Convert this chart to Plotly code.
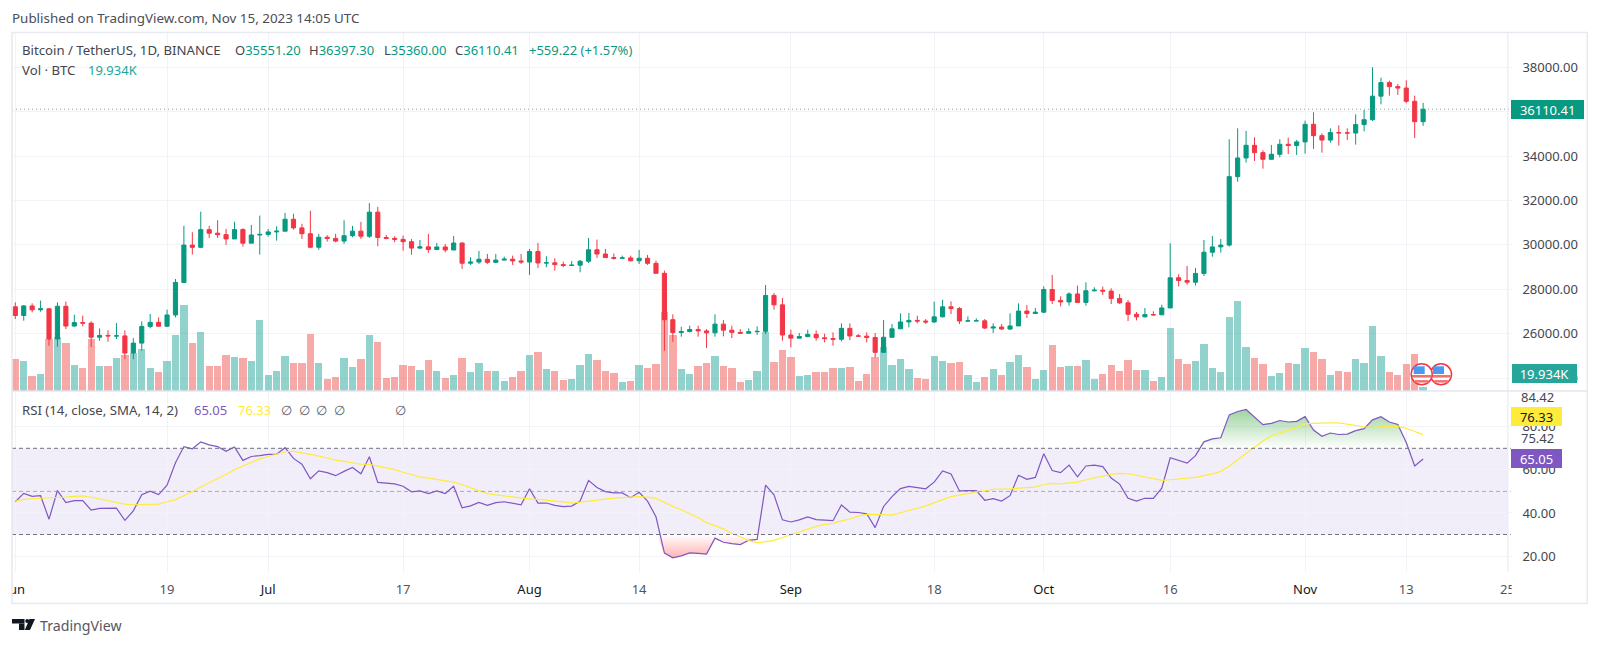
import pandas as pd
import plotly.graph_objects as go

W, H = 1600, 645
FONT = "Noto Sans"

opens = [27210,26820,27252,27075,27123,25760,27235,26345,26500,26477,25842,25922,25900,25902,25128,25576,26329,26511,26337,26845,28308,29990,29890,30688,30528,30462,30268,30690,30078,30446,
 30472,30585,30617,31156,30766,30504,29895,30346,30292,30171,30414,30620,30391,31476,30334,30295,30249,30145,29856,29913,29792,29908,29771,30083,29176,29228,29354,29213,29315,29357,29278,
 29230,29705,29186,29193,29113,29072,29088,29263,29780,29590,29430,29398,29415,29284,29400,29170,28720,26630,26050,26100,26190,26125,26040,26430,26160,26060,26020,26090,26105,27725,27300,
 25940,25800,25870,25970,25815,25780,25750,26240,25900,25890,25830,25160,25840,26220,26530,26600,26570,26530,26760,27210,27130,26570,26580,26580,26255,26300,26210,26350,27020,26910,
 26970,27990,27500,27430,27790,27410,27935,27960,27920,27590,27390,26875,26760,26860,26850,27160,28520,28395,28320,28715,29670,29910,29990,33075,33916,34486,34156,33856,34081,34531,34480,
 34640,35432,34922,34722,35060,35045,35040,35420,35640,36700,37310,37130,37065,36470,35551.20]
closes = [26820,27252,27075,27123,25760,27235,26345,26500,26477,25842,25922,25900,25902,25128,25576,26329,26511,26337,26845,28308,29990,29890,30688,30528,30462,30268,30690,30078,30446,30472,
 30585,30617,31156,30766,30504,29895,30346,30292,30171,30414,30620,30391,31476,30334,30295,30249,30145,29856,29913,29792,29908,29771,30083,29176,29228,29354,29213,29315,29357,29278,29230,
 29705,29186,29193,29113,29072,29088,29263,29780,29590,29430,29398,29415,29284,29400,29170,28720,26630,26050,26100,26190,26125,26040,26430,26160,26060,26020,26090,26105,27725,27300,25940,
 25800,25870,25970,25815,25780,25750,26240,25900,25890,25830,25160,25840,26220,26530,26600,26570,26530,26760,27210,27130,26570,26580,26580,26255,26300,26210,26350,27020,26910,26970,
 27990,27500,27430,27790,27410,27935,27960,27920,27590,27390,26875,26760,26860,26850,27160,28520,28395,28320,28715,29670,29910,29990,33075,33916,34486,34156,33856,34081,34531,34480,34640,
 35432,34922,34722,35060,35045,35040,35420,35640,36700,37310,37130,37065,36470,35551,36110.41]
highs = [27413,27290,27368,27490,27142,27413,27443,26856,26810,26556,26240,26150,26480,26150,25800,26556,26890,26736,27080,28465,30857,30570,31500,30857,31110,30720,31040,30750,30900,31320,
 30720,30840,31440,31400,30950,31534,30500,30436,30500,31110,30857,31040,31880,31715,30450,30390,30421,30270,30225,30496,30090,30045,30406,30120,29443,29729,29594,29594,29473,29518,29594,
 29820,30090,29488,29398,29248,29278,29323,30315,30240,29820,29609,29518,29518,29774,29548,29293,28842,26871,26315,26360,26360,26210,26871,26616,26360,26210,26240,26330,28195,27834,27608,
 26180,26030,26180,26150,26000,26060,26465,26465,25984,26060,26030,26615,26435,26917,26932,26811,26661,27443,27533,27458,27202,26781,26691,26661,26465,26435,26917,27368,27293,27157,
 28135,28646,27684,27864,28165,28315,28090,28120,28045,27789,27518,26977,27157,27007,27308,30075,28677,29052,28962,30222,30402,30267,34757,35252,35132,34847,34261,34501,34757,34832,34727,
 35598,35973,35027,35252,35387,35252,35883,36078,38000,37535,37400,37250,37415,36724,36397.30]
lows = [26661,26585,26960,26990,25458,25412,26210,26315,26330,25400,25680,25640,25760,24856,24856,25232,26240,26330,26300,26736,28315,29564,29850,30315,30315,30000,30270,29925,30120,29564,
 30375,30195,30617,30690,30270,29850,29775,30150,30120,30045,30345,30270,30315,29940,30250,30120,29744,29564,29820,29639,29774,29669,29774,28917,29097,29142,29142,29187,29308,29097,29142,
 28646,28962,28992,28842,28992,29067,28766,29187,29413,29413,29338,29380,29260,29142,29097,28700,25232,25638,25864,26059,25864,25352,25864,25879,25804,26000,26030,25954,25984,27082,25683,
 25382,25789,25835,25683,25608,25458,25653,25713,25879,25608,24932,25157,25834,26210,26285,26465,26435,26480,26736,26886,26435,26540,26570,26210,26030,26180,26165,26360,26706,26917,
 26932,27338,27232,27263,27413,27263,27894,27744,27338,27338,26570,26600,26736,26811,26856,27157,28135,28210,28165,28600,29470,29652,29922,32850,33705,33780,33435,33856,33946,34096,34051,
 34111,34321,34156,34607,34472,34727,34517,35117,35583,36333,36724,36754,36378,34817,35360.00]
volumes = [54.6,52.5,33.8,36.3,80,82,74.6,47.5,44.2,80,46.3,46.3,56.7,60,62.9,67.5,44.2,38.3,52.5,85,122.5,74.6,88.3,46.3,46.3,60.4,57.9,56.7,52.5,103.8,35,39.6,59.2,50,50,86.3,50,30,32.5,56.7,45.4,54.6,85,75.8,31.3,32.5,
 47.5,46.3,41.3,53.8,40.4,31.3,34.6,55.8,38.3,50,39.6,40.4,27.5,32.5,39.6,60.4,63.8,42.9,40.4,28.8,30,47.5,61.7,53.8,40.4,37.1,26.7,27.9,47.5,44.2,48.8,114.2,85,42.9,35.8,46.3,50,59.2,46.3,44.2,26.7,28.8,39.6,88.3,51.3,66.3,57.1,33.8,
 35,38.3,38.3,44.2,44.2,45,27.5,35.8,57.9,70.4,47.5,54.6,42.9,31.3,30,59.2,52.5,50,51.3,35,26.7,32.5,42.9,35,51.3,60.4,45,30,40.8,72.1,45,46.3,46.3,53.8,30,35.8,47.5,39.6,53.8,40.8,40.8,27.5,32.5,93.3,54.6,48.8,52.5,
 74.2,43.8,39.2,107,127.9,69.6,55.9,48.8,33.8,37.1,50,48.8,68.4,63.8,54.6,35,40.4,39.2,54.6,50,96.3,59.2,39.2,35,48.8,61.3,19.934]
rsi = [45.2,49.1,47.7,48.0,37.1,50.4,44.8,45.7,45.7,41.3,42.1,42.1,42.2,36.6,41.0,48.5,50.1,48.5,52.9,63.3,70.8,69.8,73.0,71.6,70.8,68.6,70.6,64.4,66.2,66.6,
 67.2,67.3,70.3,65.3,62.6,55.9,59.5,58.7,57.3,59.3,61.1,58.2,66.1,54.2,54.0,53.5,52.4,49.8,50.2,49.0,50.2,49.0,52.4,42.4,43.3,44.9,43.5,44.8,45.2,44.4,43.8,
 51.2,44.6,44.6,43.5,42.9,43.2,45.5,55.1,51.8,49.9,49.3,49.3,47.1,49.6,45.5,38.2,21.4,19.2,20.1,21.5,21.2,20.9,28.3,26.4,25.8,25.3,27.3,27.7,52.9,48.4,36.8,
 35.8,36.8,38.2,36.9,36.8,36.4,43.7,40.4,40.2,39.6,33.2,43.0,47.6,51.3,52.3,51.7,51.2,54.3,59.5,58.1,50.2,50.4,50.4,45.9,46.6,45.5,48.0,57.5,55.6,56.5,
 67.5,59.7,58.7,62.2,56.8,61.8,62.2,61.5,56.2,53.4,46.8,45.5,46.8,46.8,51.5,65.6,64.4,63.1,66.6,73.0,74.4,74.9,85.5,87.1,88.0,84.3,81.0,81.6,82.9,82.2,82.5,
 84.7,78.5,75.6,77.1,76.4,76.6,78.2,79.1,83.2,84.7,82.2,81.1,72.7,61.8,65.05]
rsi_sma = [45.5,46.3,46.6,46.8,46.8,46.9,47.4,47.7,47.9,47.3,46.5,45.7,44.9,44.1,43.8,43.8,44.0,44.1,45.2,46.2,48.0,49.8,52.0,54.2,56.0,57.8,60.1,61.8,63.6,65.1,
 66.2,67.2,68.4,68.7,68.0,67.2,66.4,65.5,64.5,63.9,63.3,62.6,62.5,61.7,60.9,60.1,58.9,57.8,56.7,56.2,55.6,54.9,54.3,53.1,51.7,50.2,49.0,48.4,47.9,47.4,46.8,
 46.5,46.3,46.0,45.5,45.1,44.6,45.1,45.7,46.2,46.6,46.9,47.1,47.3,47.6,47.3,46.8,44.9,43.0,41.5,39.7,37.9,35.5,34.0,32.6,30.6,28.9,27.2,26.1,26.7,27.3,28.6,
 29.9,31.3,32.6,33.8,34.7,35.2,36.3,37.2,38.5,39.3,39.3,39.0,39.0,40.1,41.3,42.2,43.3,44.6,46.2,47.6,48.2,49.0,49.8,50.2,51.0,51.0,51.2,51.5,51.8,52.0,
 53.2,53.7,53.5,53.8,54.3,55.4,56.2,57.3,57.9,58.4,58.2,57.5,56.8,56.0,55.1,55.4,55.7,55.9,56.5,57.3,58.1,59.3,61.7,64.7,67.6,70.3,73.4,75.8,76.9,78.3,79.7,
 81.3,81.6,81.8,81.8,81.8,81.1,80.5,80.0,79.7,80.0,80.2,80.2,79.3,77.8,76.33]
tick_dates = ["2023-06-01","2023-06-19","2023-07-01","2023-07-17","2023-08-01","2023-08-14","2023-09-01","2023-09-18","2023-10-01","2023-10-16","2023-11-01","2023-11-13","2023-11-25"]
tick_labels = ["Jun","19","Jul","17","Aug","14","Sep","18","Oct","16","Nov","13","25"]
price_ticks = [24000,26000,28000,30000,32000,34000,36000,38000]
rsi_ticks = [20,40,60,80]

assert all(len(a) == 168 for a in (opens, closes, highs, lows, volumes, rsi, rsi_sma)), [len(a) for a in (opens, closes, highs, lows, volumes, rsi, rsi_sma)]
dates = pd.date_range("2023-06-01", periods=168, freq="D")

UP, DOWN = "#089981", "#F23645"
GRID = "#f1f3f8"
INK = "#43464f"
MONTHS = {"Jun", "Jul", "Aug", "Sep", "Oct", "Nov"}

def px(x): return x / W
def py(y): return 1 - y / H

L, R, TOP, SPLIT, BOT = 12.0, 1507.8, 33.0, 391.0, 572.0
DAY_PX = 8.43
FIRST_PX = 15.3
x_start = dates[0] + pd.Timedelta(days=(L - FIRST_PX) / DAY_PX)
x_end = dates[0] + pd.Timedelta(days=(R - FIRST_PX) / DAY_PX)
xr = [x_start, x_end]

fig = go.Figure()
fig.add_bar(x=dates, y=volumes, xaxis="x", yaxis="y", width=0.87 * 86400000,
            marker=dict(color=["rgba(38,166,154,0.5)" if c >= o else "rgba(239,83,80,0.5)" for o, c in zip(opens, closes)], line_width=0),
            showlegend=False, hoverinfo="skip")
fig.add_candlestick(x=dates, open=opens, high=highs, low=lows, close=closes, xaxis="x", yaxis="y2",
                    increasing=dict(line=dict(color=UP, width=1), fillcolor=UP),
                    decreasing=dict(line=dict(color=DOWN, width=1), fillcolor=DOWN),
                    whiskerwidth=0, showlegend=False, hoverinfo="skip")
fig.add_scatter(x=dates, y=[70] * 168, xaxis="x2", yaxis="y3", mode="lines", line=dict(width=0), showlegend=False, hoverinfo="skip")
fig.add_scatter(x=dates, y=[max(v, 70) for v in rsi], xaxis="x2", yaxis="y3", mode="lines", line=dict(width=0), fill="tonexty",
                fillgradient=dict(type="vertical", start=70, stop=88, colorscale=[[0, "rgba(76,175,80,0)"], [1, "rgba(76,175,80,0.55)"]]),
                showlegend=False, hoverinfo="skip")
fig.add_scatter(x=dates, y=[30] * 168, xaxis="x2", yaxis="y3", mode="lines", line=dict(width=0), showlegend=False, hoverinfo="skip")
fig.add_scatter(x=dates, y=[min(v, 30) for v in rsi], xaxis="x2", yaxis="y3", mode="lines", line=dict(width=0), fill="tonexty",
                fillgradient=dict(type="vertical", start=19, stop=30, colorscale=[[0, "rgba(255,82,82,0.45)"], [1, "rgba(255,82,82,0)"]]),
                showlegend=False, hoverinfo="skip")
fig.add_scatter(x=dates, y=rsi, xaxis="x2", yaxis="y3", mode="lines", line=dict(color="#7E57C2", width=1.2), showlegend=False, hoverinfo="skip")
fig.add_scatter(x=dates, y=rsi_sma, xaxis="x2", yaxis="y3", mode="lines", line=dict(color="#FFEB3B", width=1.2), showlegend=False, hoverinfo="skip")

shapes = []
def hline(y, color, dash, yref="y3"):
    shapes.append(dict(type="line", xref="paper", yref=yref, x0=px(L), x1=px(R + 3), y0=y, y1=y, line=dict(color=color, width=1, dash=dash), layer="above"))
shapes.append(dict(type="rect", xref="paper", yref="y3", x0=px(L), x1=px(R), y0=30, y1=70, fillcolor="rgba(126,87,194,0.1)", line_width=0, layer="below"))
hline(70, "#6f7280", "4px,3px")
hline(30, "#6f7280", "4px,3px")
hline(50, "rgba(120,123,134,0.6)", "4px,3px")
hline(closes[-1], "rgba(90,130,125,0.75)", "1px,3px", "y2")

def prect(x0, y0, x1, y1, fill=None, line=None, lw=0, layer="above", kind="rect"):
    d = dict(type=kind, xref="paper", yref="paper", x0=px(x0), x1=px(x1), y0=py(y0), y1=py(y1), layer=layer, line_width=lw)
    if fill: d["fillcolor"] = fill
    if line: d["line_color"] = line
    shapes.append(d)

prect(R, TOP, R + 0.01, 572, line="#eceef4", lw=1)
prect(L, SPLIT, 1587, SPLIT + 0.01, line="#e3e5ee", lw=1)
prect(0, 578, L, 602, fill="white")
prect(1511.7, 578, 1540, 602, fill="white")
prect(L, 32.5, 1587.3, 603.5, line="#e8e9f1", lw=1.5)

def flag(cx, cy):
    prect(cx - 10.5, cy - 10.5, cx + 10.5, cy + 10.5, fill="white", line="#F23645", lw=1.5, kind="circle")
    prect(cx - 8, cy - 8, cx + 3, cy - 0.3, fill="#4a9bf0")
    prect(cx - 9.7, cy + 0.7, cx + 9.7, cy + 3.3, fill="#f4716f")
    prect(cx - 7, cy + 5.8, cx + 7, cy + 8.3, fill="#f4716f")
flag(1441, 374.3)
flag(1421.7, 374.3)

prect(12, 619, 24.5, 623.5, fill="#131722")
prect(19, 623.5, 24.5, 630, fill="#131722")
prect(25.2, 619, 29.2, 623, fill="#131722", kind="circle")
shapes.append(dict(type="path", xref="paper", yref="paper", layer="above", line_width=0, fillcolor="#131722",
                   path=f"M {px(29.5)} {py(619)} L {px(35)} {py(619)} L {px(30)} {py(630)} L {px(24.8)} {py(630)} Z"))

ann = []
def txt(x, y, text, size=13, color=INK, **kw):
    ann.append(dict(xref="paper", yref="paper", x=px(x), y=py(y), text=text, showarrow=False, xanchor="left", yanchor="middle",
                    borderpad=0, borderwidth=0, font=dict(family=FONT, size=size, color=color), **kw))
def badge(x0, x1, y0, y1, text, bg, fg):
    ann.append(dict(xref="paper", yref="paper", x=px(x0), y=py((y0 + y1) / 2), text=text, showarrow=False, xanchor="left", yanchor="middle",
                    width=x1 - x0, height=y1 - y0, align="center", valign="middle", bgcolor=bg, borderwidth=0, borderpad=0,
                    font=dict(family=FONT, size=13, color=fg)))

G = "#089981"
def gv(k, v): return f'{k}<span style="color:{G}">{v}</span>'
HS = 13.2
txt(12, 18.3, "Published on TradingView.com, Nov 15, 2023 14:05 UTC", 13.4, "#4a4d57")
txt(21.6, 49.5, "Bitcoin / TetherUS, 1D, BINANCE", HS)
txt(234.6, 49.5, gv("O", "35551.20"), 13)
txt(309, 49.5, gv("H", "36397.30"), 13)
txt(383.5, 49.5, gv("L", "35360.00"), 13)
txt(455, 49.5, gv("C", "36110.41"), 13)
txt(529, 49.5, "+559.22 (+1.57%)", 13, G)
txt(21.6, 69.5, "Vol · BTC", HS)
txt(87.7, 69.5, "19.934K", 13, "#26a69a")
txt(21.6, 409.7, "RSI (14, close, SMA, 14, 2)", HS)
txt(194, 409.7, "65.05", 13, "#7E57C2")
txt(237.6, 409.7, "76.33", 13, "#FFEB3B")
for xp in (280.5, 298.5, 316, 334, 394.5):
    txt(xp, 409.7, "∅", 13, "#5d606b")
txt(1521, 396.9, "84.42")
txt(1521, 437.5, "75.42")
txt(40, 625, "TradingView", 14.2, "#555862")
badge(1511, 1584.3, 100, 119, "36110.41", "#089981", "white")
badge(1511.7, 1576.7, 364, 383.3, "19.934K", "#26a69a", "white")
badge(1511, 1562, 406.4, 425.6, "76.33", "#FFEB3B", "#131722")
badge(1511, 1562, 449.3, 468.6, "65.05", "#7E57C2", "white")

xaxis_common = dict(type="date", range=xr, tickvals=tick_dates, showgrid=True, gridcolor=GRID, gridwidth=1, zeroline=False, showline=False, fixedrange=True, automargin=False)
x_ticktext = [f'<span style="color:#131722">{t}</span>' if t in MONTHS else t for t in tick_labels]
fig.update_layout(
    width=W, height=H, margin=dict(l=0, r=0, t=0, b=0, pad=0), autosize=False,
    paper_bgcolor="white", plot_bgcolor="white", hovermode=False, dragmode=False, showlegend=False, bargap=0,
    font=dict(family=FONT, size=13, color=INK),
    xaxis=dict(xaxis_common, domain=[px(L), px(R)], anchor="y", showticklabels=False, ticks="", rangeslider=dict(visible=False)),
    xaxis2=dict(xaxis_common, domain=[px(L), px(R)], anchor="y3", ticktext=x_ticktext, ticks="", ticklabelstandoff=8,
                tickfont=dict(family=FONT, size=13, color="#50535e")),
    yaxis=dict(domain=[py(SPLIT), py(TOP)], range=[15, 15 + (SPLIT - TOP) * 1.25], anchor="x", visible=False, fixedrange=True, automargin=False),
    yaxis2=dict(domain=[py(SPLIT), py(TOP)], range=[38000 - (SPLIT - 67.3) / 0.0222, 38000 + (67.3 - TOP) / 0.0222], anchor="x", overlaying="y", side="right",
                tickvals=price_ticks, ticktext=[f"{v:.2f}" for v in price_ticks], showgrid=True, gridcolor=GRID, zeroline=False, showline=False, automargin=False,
                ticks="outside", ticklen=4, tickcolor=GRID, ticklabelstandoff=7, fixedrange=True, tickfont=dict(family=FONT, size=13, color=INK)),
    yaxis3=dict(domain=[py(BOT), py(SPLIT)], range=[70 - (BOT - 448.3) / 2.155, 70 + (448.3 - SPLIT) / 2.155], anchor="x2", side="right",
                tickvals=rsi_ticks, ticktext=[f"{v:.2f}" for v in rsi_ticks], showgrid=True, gridcolor=GRID, zeroline=False, showline=False, automargin=False,
                ticks="outside", ticklen=4, tickcolor=GRID, ticklabelstandoff=7, fixedrange=True, tickfont=dict(family=FONT, size=13, color=INK)),
    shapes=shapes, annotations=ann,
)
fig.write_html("out.html", config=dict(displayModeBar=False), post_script="document.body.style.margin='0';document.body.style.overflow='hidden';")
